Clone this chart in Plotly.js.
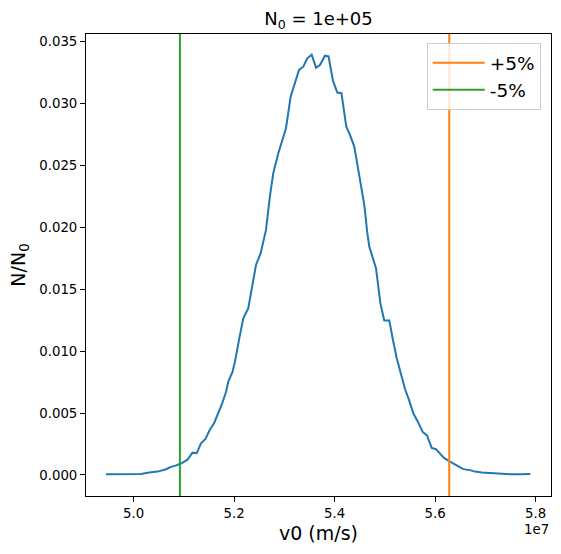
<!DOCTYPE html>
<html>
<head>
<meta charset="utf-8">
<script src="https://cdn.plot.ly/plotly-3.0.1.min.js"></script>
<style>
  html, body { margin: 0; padding: 0; background: #ffffff; }
  #chart { width: 561px; height: 554px; }
</style>
</head>
<body>
<div id="chart"></div>
<script>
// Initial speed distribution, normalised by the number of particles N0
const v0 = [
  4.9449e7, 4.9727e7, 4.9980e7, 5.0145e7, 5.0310e7, 5.0478e7, 5.0643e7, 5.0742e7,
  5.0822e7, 5.0951e7, 5.1075e7, 5.1170e7, 5.1254e7, 5.1339e7, 5.1429e7, 5.1508e7,
  5.1604e7, 5.1678e7, 5.1757e7, 5.1837e7, 5.1883e7, 5.1966e7, 5.2016e7, 5.2096e7,
  5.2181e7, 5.2281e7, 5.2354e7, 5.2434e7, 5.2527e7, 5.2633e7, 5.2712e7, 5.2778e7,
  5.2878e7, 5.2951e7, 5.3031e7, 5.3124e7, 5.3210e7, 5.3290e7, 5.3375e7, 5.3455e7,
  5.3542e7, 5.3628e7, 5.3707e7, 5.3807e7, 5.3877e7, 5.3966e7, 5.4052e7, 5.4135e7,
  5.4231e7, 5.4304e7, 5.4390e7, 5.4503e7, 5.4589e7, 5.4649e7, 5.4689e7, 5.4822e7,
  5.4911e7, 5.4987e7, 5.5087e7, 5.5160e7, 5.5234e7, 5.5319e7, 5.5399e7, 5.5479e7,
  5.5564e7, 5.5658e7, 5.5751e7, 5.5837e7, 5.5930e7, 5.6016e7, 5.6096e7, 5.6175e7,
  5.6295e7, 5.6404e7, 5.6559e7, 5.6693e7, 5.6792e7, 5.6931e7, 5.7091e7, 5.7290e7,
  5.7489e7, 5.7688e7, 5.7893e7
];
const fraction = [
  0.00006, 0.00006, 0.00006, 0.00008, 0.00019, 0.00027, 0.00046, 0.00065,
  0.00073, 0.00094, 0.00125, 0.00180, 0.00175, 0.00256, 0.00291, 0.00359,
  0.00422, 0.00492, 0.00573, 0.00670, 0.00753, 0.00832, 0.00915, 0.01090,
  0.01265, 0.01346, 0.01518, 0.01695, 0.01790, 0.01978, 0.02253, 0.02436,
  0.02597, 0.02697, 0.02799, 0.03054, 0.03165, 0.03270, 0.03296, 0.03364,
  0.03393, 0.03288, 0.03310, 0.03385, 0.03379, 0.03183, 0.03087, 0.03082,
  0.02812, 0.02745, 0.02651, 0.02374, 0.02180, 0.01954, 0.01843, 0.01669,
  0.01381, 0.01247, 0.01247, 0.01090, 0.00945, 0.00815, 0.00694, 0.00606,
  0.00498, 0.00428, 0.00347, 0.00319, 0.00218, 0.00208, 0.00170, 0.00137,
  0.00107, 0.00081, 0.00047, 0.00039, 0.00027, 0.00020, 0.00015, 0.00010,
  0.00006, 0.00006, 0.00008
];

// Reference speed and the +/-5 % markers
const vCentre = 5.36e7;
const bandNames = ['+5%', '-5%'];
const bandFactors = [1.05, 0.95];

// Tick positions and their labels (x in units of 1e7 m/s)
const xTickVals = [5.0e7, 5.2e7, 5.4e7, 5.6e7, 5.8e7];
const xTickText = ['5.0', '5.2', '5.4', '5.6', '5.8'];
const yTickVals = [0, 0.005, 0.010, 0.015, 0.020, 0.025, 0.030, 0.035];
const yTickText = ['0.000', '0.005', '0.010', '0.015', '0.020', '0.025', '0.030', '0.035'];

const xRange = [4.9051e7, 5.8305e7];
const yRange = [-0.00170, 0.03560];

const FONT = 'DejaVu Sans, Liberation Sans, sans-serif';
const bandColors = ['#ff7f0e', '#2ca02c'];

const traces = [{
  x: v0,
  y: fraction,
  type: 'scatter',
  mode: 'lines',
  line: { color: '#1f77b4', width: 2 },
  showlegend: false,
  hoverinfo: 'x+y'
}];

// Vertical markers spanning the full height of the axes
bandNames.forEach((name, i) => {
  const v = vCentre * bandFactors[i];
  traces.push({
    x: [v, v],
    y: yRange,
    type: 'scatter',
    mode: 'lines',
    name: name,
    line: { color: bandColors[i], width: 2 }
  });
});

const axisCommon = {
  showline: true,
  mirror: true,
  linecolor: '#000000',
  linewidth: 1,
  ticks: 'outside',
  ticklen: 5,
  tickwidth: 1,
  tickcolor: '#000000',
  showgrid: false,
  zeroline: false,
  tickfont: { family: FONT, size: 13.3, color: '#000000' }
};

const layout = {
  width: 561,
  height: 554,
  margin: { l: 86, r: 10, t: 34, b: 58 },
  paper_bgcolor: '#ffffff',
  plot_bgcolor: '#ffffff',
  font: { family: FONT, color: '#000000' },
  title: {
    text: 'N<sub>0</sub> = 1e+05',
    font: { family: FONT, size: 18, color: '#000000' },
    xref: 'paper', x: 0.5, xanchor: 'center',
    yref: 'container', y: 1 - 19 / 554, yanchor: 'middle'
  },
  xaxis: Object.assign({}, axisCommon, {
    range: xRange,
    tickmode: 'array',
    tickvals: xTickVals,
    ticktext: xTickText,
    title: { text: 'v0 (m/s)', font: { family: FONT, size: 19, color: '#000000' }, standoff: 6 }
  }),
  yaxis: Object.assign({}, axisCommon, {
    range: yRange,
    tickmode: 'array',
    tickvals: yTickVals,
    ticktext: yTickText,
    title: { text: 'N/N<sub>0</sub>', font: { family: FONT, size: 19, color: '#000000' }, standoff: 8 }
  }),
  legend: {
    x: 0.978, xanchor: 'right',
    y: 0.98, yanchor: 'top',
    bgcolor: 'rgba(255,255,255,0.8)',
    bordercolor: '#cccccc',
    borderwidth: 1,
    font: { family: FONT, size: 18.5, color: '#000000' },
    itemwidth: 52
  },
  annotations: [{
    text: '1e7',
    xref: 'paper', x: 1, xanchor: 'right',
    yref: 'paper', y: -0.072, yanchor: 'middle',
    showarrow: false,
    font: { family: FONT, size: 13.3, color: '#000000' }
  }]
};

Plotly.newPlot('chart', traces, layout, { displayModeBar: false, staticPlot: true });
</script>
</body>
</html>
